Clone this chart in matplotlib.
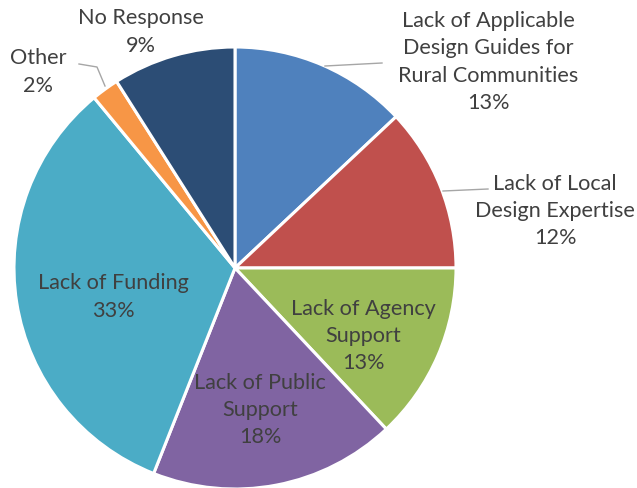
import matplotlib.pyplot as plt

categories = ["Lack of Applicable\nDesign Guides for\nRural Communities",
              "Lack of Local\nDesign Expertise",
              "Lack of Agency\nSupport",
              "Lack of Public\nSupport",
              "Lack of Funding",
              "Other",
              "No Response"]
shares = [13, 12, 13, 18, 33, 2, 9]
colors = ["#4F81BD", "#C0504D", "#9BBB59", "#8064A2", "#4BACC6", "#F79646", "#2C4D75"]

# label anchor points (pixel coords, y from top)
label_pos = [(488, 62), (555, 211), (363, 336), (260, 410), (113, 297), (38, 72), (141, 32)]

W, H = 637, 488
fig = plt.figure(figsize=(W / 100, H / 100), dpi=100)
ax = fig.add_axes([0, 0, 1, 1])

cx, cy, r = 235, H - 268, 221
ax.pie(shares, colors=colors, startangle=90, counterclock=False,
       center=(cx, cy), radius=r, frame=True,
       wedgeprops=dict(edgecolor="white", linewidth=2.2))
ax.set_xlim(0, W)
ax.set_ylim(0, H)
ax.set_aspect("equal")
ax.axis("off")

for name, val, (x, y) in zip(categories, shares, label_pos):
    ax.text(x, H - y, f"{name}\n{val}%", ha="center", va="center",
            fontsize=15.6, family="Lato", color="#404040", linespacing=1.44)

# leader lines
lc = "#A6A6A6"
ax.plot([325, 382], [H - 66, H - 63], color=lc, lw=1)
ax.plot([443, 488], [H - 191, H - 189], color=lc, lw=1)
ax.plot([105, 97, 79], [H - 86, H - 67, H - 64], color=lc, lw=1)

fig.savefig("out.png", dpi=100)
